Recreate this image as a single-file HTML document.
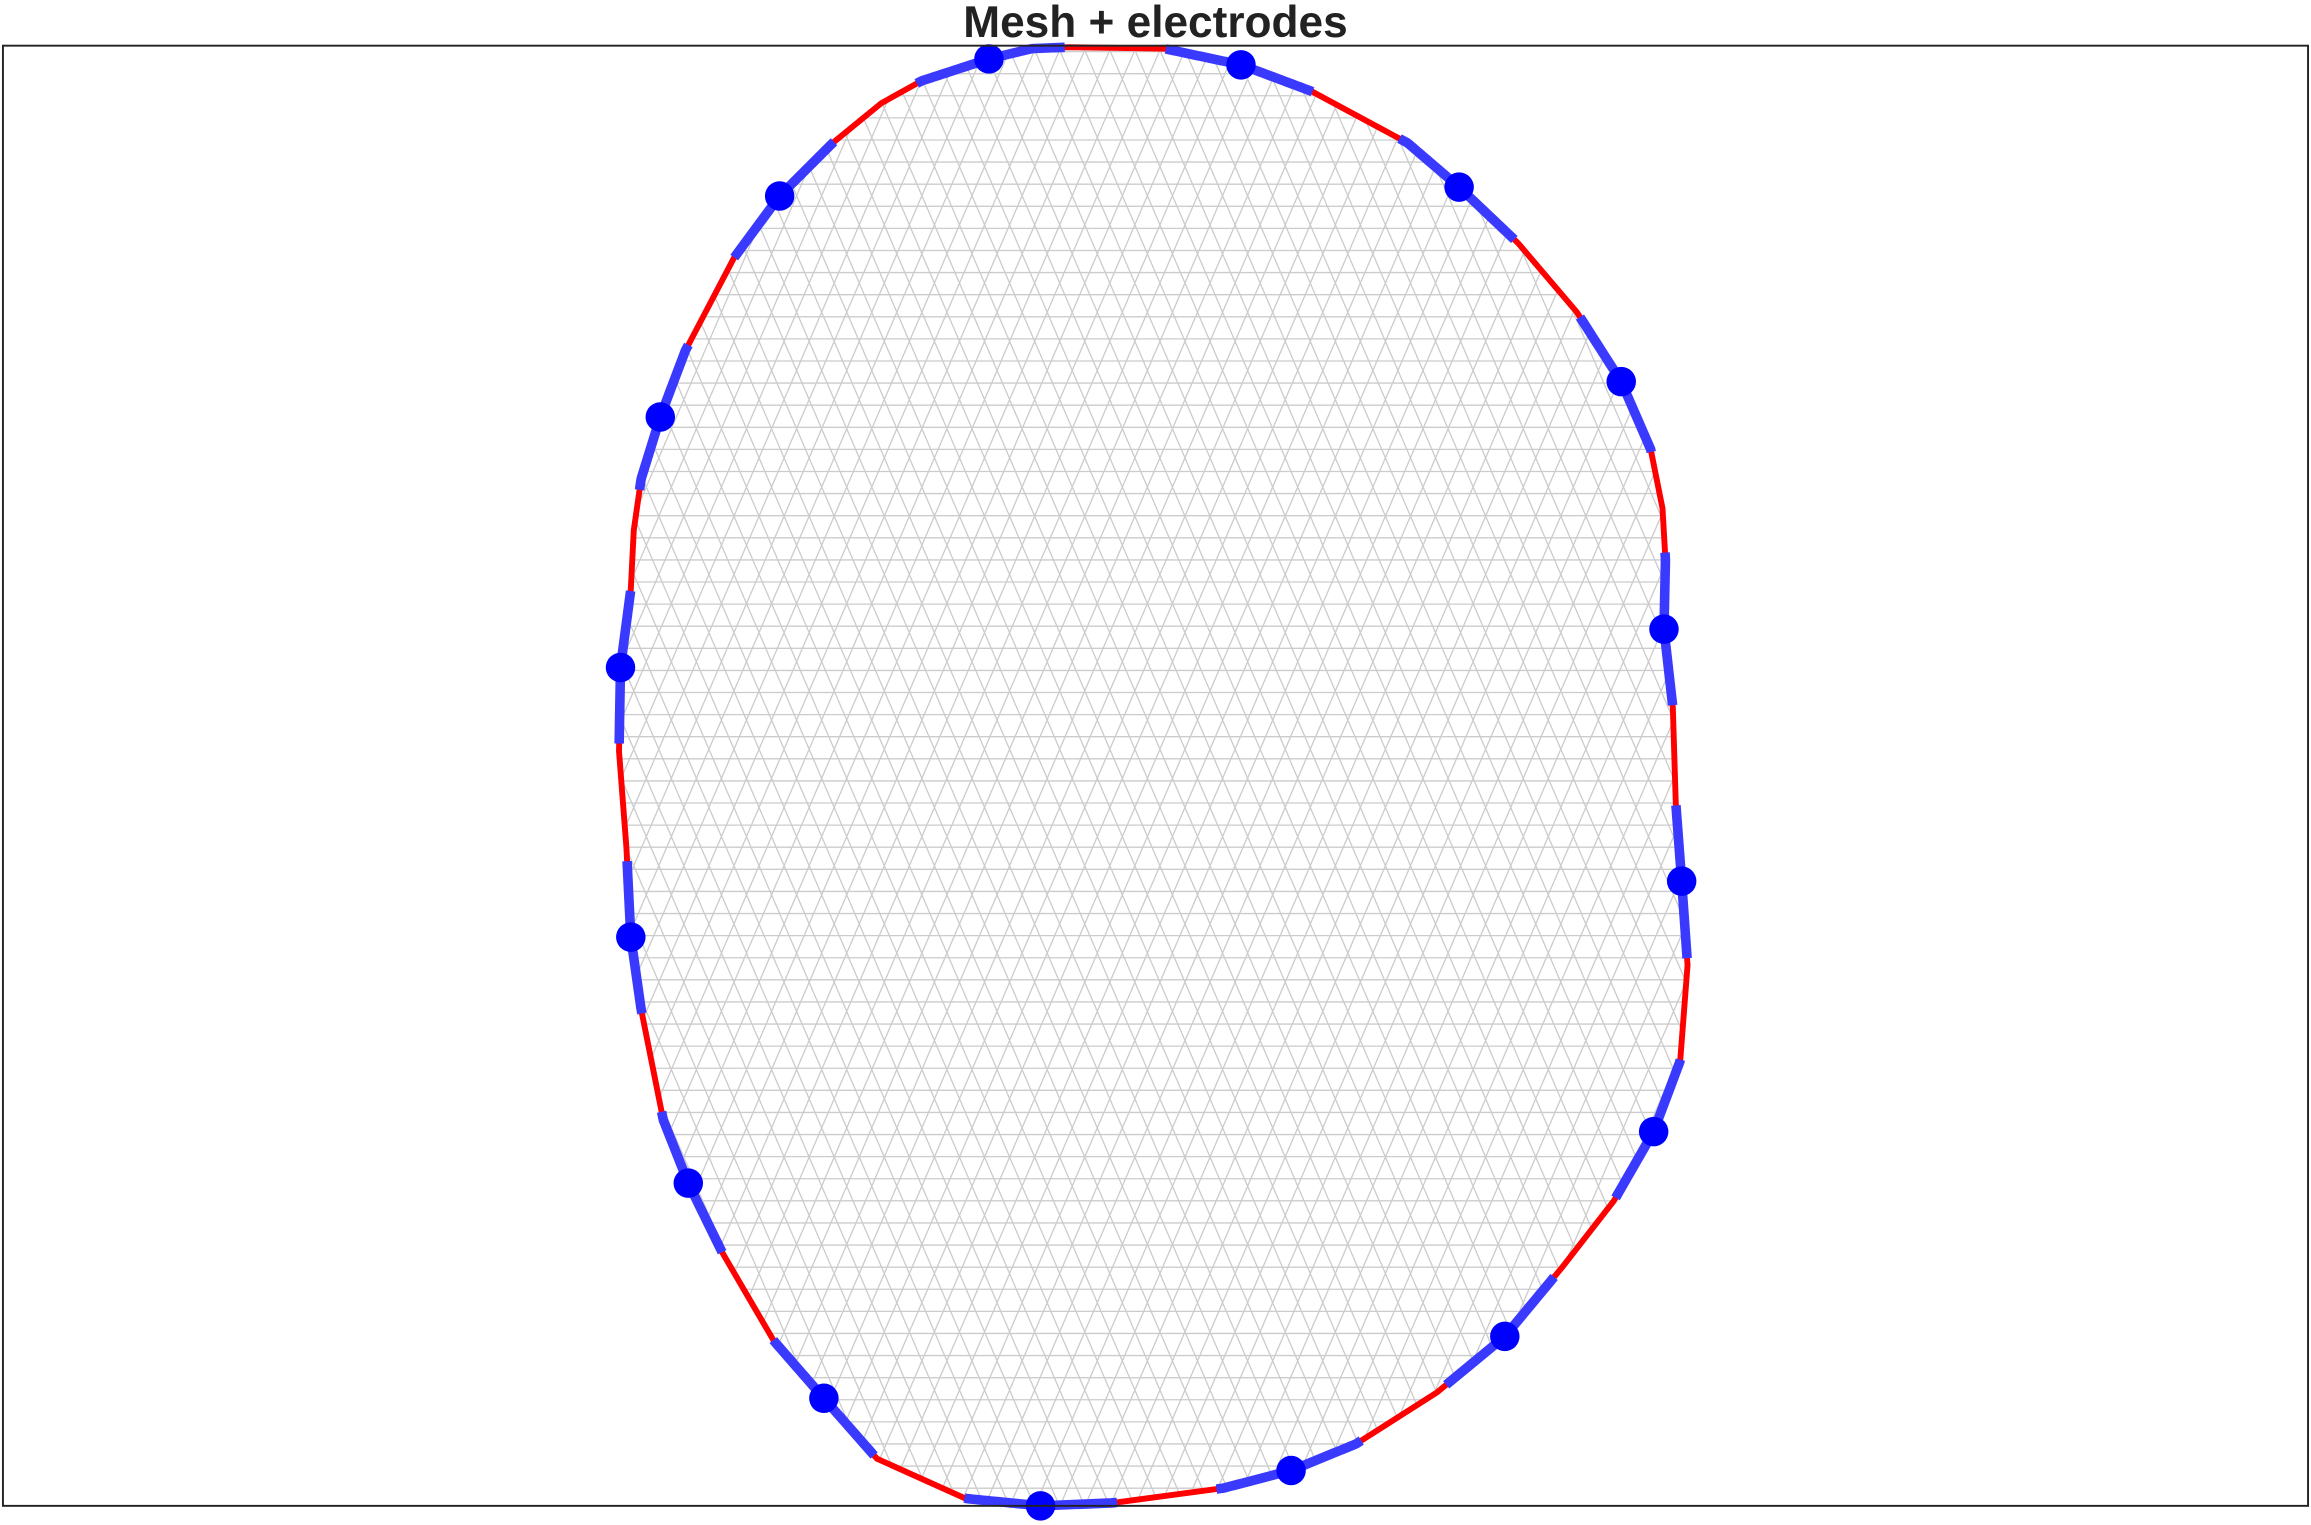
<!DOCTYPE html>
<html><head><meta charset="utf-8"><style>
html,body{margin:0;padding:0;background:#fff;}
svg{display:block;}
</style></head><body>
<svg id="chart" width="2311" height="1525" viewBox="0 0 1568 1035" preserveAspectRatio="none" xmlns="http://www.w3.org/2000/svg">
<text x="784" y="25" text-anchor="middle" font-family="Liberation Sans, sans-serif" font-weight="bold" font-size="30" fill="#222">Mesh + electrodes</text>
<defs><clipPath id="clip"><polygon id="clipPoly"/></clipPath></defs>
<g id="mesh" clip-path="url(#clip)"></g>
<g id="bnd"></g>
<g id="elec"></g>
<rect x="2" y="31" width="1564" height="991" fill="none" stroke="#222" stroke-width="1.3"/>
</svg>
<script>
const bx=[725,790,842,890,955,990,1030,1070,1100,1120,1128,1130,1129,1135,1137,1141,1145,1140,1122,1095,1060,1021,975,920,876,830,755,706,655,595,559,525,490,467,450,435,428,425,420,421,428,430,435,448,465,498,529,565,598,625,671,700];
const by=[32,33,44,62,97,127,165,212,259,305,345,380,427,480,545,598,655,720,768,815,860,907,945,980,998,1010,1020,1022,1017,990,949,910,850,803,760,685,636,575,510,453,400,360,325,283,238,175,133,97,70,55,40,33];
const ex=[671,842,990,1100,1129,1141,1122,1021,876,706,559,467,428,421,448,529];
const ey=[40,44,127,259,427,598,768,907,998,1022,949,803,636,453,283,133];
const NS='http://www.w3.org/2000/svg';
const pts=bx.map((x,i)=>x+','+by[i]).join(' ');
document.getElementById('clipPoly').setAttribute('points',pts);
const mesh=document.getElementById('mesh');
let d='';const h=15,w=17;
for(let y=20;y<1040;y+=h){d+=`M400 ${y}H1160`;}
for(let k=-1200;k<1200;k+=w){d+=`M${400+k} 20L${400+k+760*0.577} 1040`;d+=`M${1160+k} 20L${1160+k-760*0.577} 1040`;}
const mp=document.createElementNS(NS,'path');
mp.setAttribute('d',d);mp.setAttribute('stroke','#cccccc');mp.setAttribute('stroke-width','0.9');mp.setAttribute('fill','none');


mesh.appendChild(mp);
const bnd=document.getElementById('bnd');
const rp=document.createElementNS(NS,'polygon');
rp.setAttribute('points',pts);rp.setAttribute('fill','none');rp.setAttribute('stroke','#ff0000');rp.setAttribute('stroke-width','4');


bnd.appendChild(rp);
const n=bx.length;const s=[0];
for(let i=1;i<=n;i++){const a=(i-1)%n,b=i%n;s.push(s[i-1]+Math.hypot(bx[b]-bx[a],by[b]-by[a]));}
const L=s[n];
function at(t){t=((t%L)+L)%L;for(let i=0;i<n;i++){if(t<=s[i+1]){const f=(t-s[i])/(s[i+1]-s[i]);const a=i,b=(i+1)%n;return[bx[a]+f*(bx[b]-bx[a]),by[a]+f*(by[b]-by[a])];}}return[bx[0],by[0]];}
const elec=document.getElementById('elec');
ex.forEach((x,k)=>{
  let best=0,bd=1e9;for(let t=0;t<L;t+=1){const p=at(t);const dd=Math.hypot(p[0]-x,p[1]-ey[k]);if(dd<bd){bd=dd;best=t;}}
  const ps=[];for(let t=best-52;t<=best+52;t+=2)ps.push(at(t).join(','));
  const pl=document.createElementNS(NS,'polyline');
  pl.setAttribute('points',ps.join(' '));pl.setAttribute('fill','none');pl.setAttribute('stroke','#3a3aff');pl.setAttribute('stroke-width','6.5');
  
  
  bnd.appendChild(pl);
  const c=document.createElementNS(NS,'circle');
  c.setAttribute('cx',x);c.setAttribute('cy',ey[k]);c.setAttribute('r','10');c.setAttribute('fill','#0000ff');
  
  
  elec.appendChild(c);
});
</script>
</body></html>
